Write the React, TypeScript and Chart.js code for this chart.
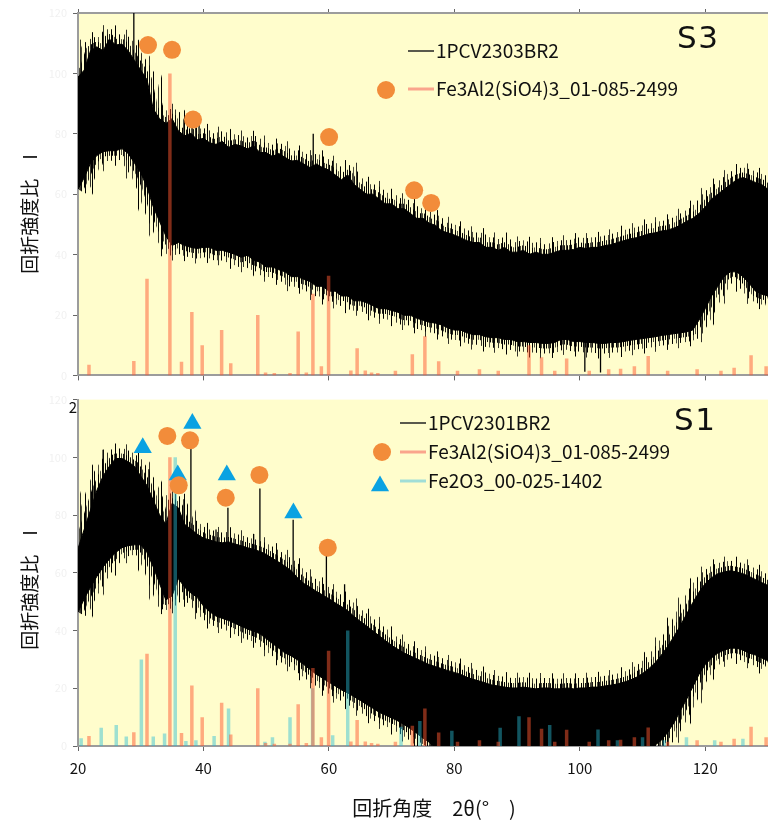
import { useEffect, useRef } from 'react';
import { Chart, registerables } from 'chart.js';

Chart.register(...registerables);

// 2θ sampling positions of the two scans (degrees)
const scanAngles = [
  20, 21, 22, 23, 24, 25, 26, 27, 28, 29, 30, 31, 32, 33, 34, 35, 36, 37, 38, 39,
  40, 41, 42, 43, 44, 45, 46, 47, 48, 49, 50, 51, 52, 53, 54, 55, 56, 57, 58, 59,
  60, 61, 62, 63, 64, 65, 66, 67, 68, 69, 70, 71, 72, 73, 74, 75, 76, 77, 78, 79,
  80, 81, 82, 83, 84, 85, 86, 87, 88, 89, 90, 91, 92, 93, 94, 95, 96, 97, 98, 99,
  100, 101, 102, 103, 104, 105, 106, 107, 108, 109, 110, 111, 112, 113, 114, 115, 116, 117, 118, 119,
  120, 121, 122, 123, 124, 125, 126, 127, 128, 129, 130,
];

// S3 (1PCV2303BR2): upper and lower edge of the noisy scan
const s3Upper = [
  98.8, 101.1, 107.5, 108.8, 107.5, 111.4, 109.4, 109.7, 107.5, 104.3,
  101.1, 97.9, 88.2, 85.0, 83.4, 85.0, 81.0, 79.3, 80.2, 78.0,
  78.5, 77.0, 76.5, 77.5, 75.5, 76.5, 76.0, 75.0, 76.0, 73.8,
  73.8, 72.5, 73.5, 72.2, 71.0, 71.2, 70.0, 68.8, 70.0, 68.8,
  68.0, 66.4, 64.8, 66.4, 63.2, 61.6, 60.0, 60.0, 58.4, 56.8,
  56.8, 55.2, 55.2, 53.6, 52.0, 52.0, 50.4, 49.7, 47.8, 47.2,
  46.5, 45.6, 44.6, 44.0, 44.0, 42.4, 42.4, 41.4, 42.4, 40.8,
  40.8, 41.4, 40.1, 40.8, 40.1, 40.1, 40.8, 41.4, 41.4, 41.7,
  42.4, 42.0, 42.4, 42.4, 43.0, 43.3, 44.0, 44.6, 45.2, 45.6,
  46.2, 46.9, 47.2, 47.8, 48.1, 48.8, 49.7, 51.0, 52.0, 53.6,
  55.8, 58.4, 60.0, 61.6, 63.2, 64.8, 65.5, 64.8, 63.9, 63.2,
  61.6,
];
const s3Lower = [
  61.6, 65.5, 70.3, 72.8, 74.1, 74.4, 74.4, 75.1, 73.5, 70.3,
  67.1, 62.3, 55.8, 51.0, 46.2, 43.0, 44.0, 43.0, 42.4, 42.0,
  42.4, 42.4, 41.4, 41.4, 40.8, 40.1, 39.1, 39.8, 38.2, 37.5,
  35.9, 35.9, 35.0, 34.3, 32.7, 32.7, 31.8, 31.1, 29.5, 29.5,
  27.9, 27.9, 26.3, 26.3, 24.7, 24.7, 24.1, 23.1, 22.1, 22.1,
  21.5, 20.9, 19.9, 19.9, 18.9, 18.3, 17.6, 17.3, 16.7, 15.7,
  15.0, 15.0, 14.1, 13.5, 13.5, 12.8, 12.5, 12.5, 11.9, 11.9,
  11.2, 11.2, 10.9, 10.9, 10.6, 10.6, 10.9, 11.9, 11.9, 11.2,
  11.2, 10.9, 10.9, 10.6, 10.6, 10.9, 10.9, 11.2, 11.6, 11.9,
  12.2, 12.5, 12.8, 13.2, 13.5, 13.8, 14.1, 14.4, 15.0, 18.3,
  22.1, 26.3, 29.5, 32.7, 34.3, 34.3, 32.7, 30.5, 27.9, 26.9,
  26.3,
];

// S1 (1PCV2301BR2): upper and lower edge of the noisy scan
const s1Upper = [
  68.4, 75.1, 81.8, 88.5, 93.5, 96.9, 99.6, 99.6, 98.5, 96.9,
  93.5, 90.2, 85.1, 80.1, 76.8, 84.1, 82.5, 76.8, 75.1, 73.4,
  72.0, 71.4, 70.7, 70.4, 70.7, 70.0, 69.4, 68.7, 68.1, 67.4,
  66.4, 65.0, 63.7, 62.3, 60.7, 58.3, 56.3, 55.0, 53.6, 52.3,
  51.0, 49.6, 48.3, 46.9, 44.9, 43.2, 41.6, 39.9, 38.2, 36.5,
  34.9, 33.5, 32.2, 31.2, 30.2, 29.2, 28.2, 27.5, 26.8, 26.1,
  25.5, 24.8, 23.8, 23.1, 22.5, 21.8, 21.1, 20.8, 20.4, 20.1,
  20.1, 20.4, 20.1, 19.8, 20.1, 20.1, 19.8, 19.8, 20.1, 19.8,
  20.1, 20.1, 20.4, 20.4, 20.8, 21.1, 21.5, 22.1, 22.8, 23.8,
  25.1, 26.8, 28.8, 31.5, 34.5, 37.9, 41.6, 45.6, 49.6, 53.3,
  56.3, 58.3, 59.7, 60.3, 60.7, 60.3, 59.7, 58.7, 57.7, 56.6,
  55.6,
];
const s1Lower = [
  46.3, 51.0, 55.0, 58.7, 62.0, 64.7, 67.0, 68.7, 69.4, 69.7,
  69.7, 67.0, 62.0, 56.3, 50.6, 52.0, 58.0, 55.0, 53.0, 51.5,
  48.5, 46.5, 45.0, 44.2, 43.5, 42.5, 41.5, 40.5, 39.8, 38.9,
  37.2, 35.5, 33.9, 32.2, 31.2, 29.8, 28.2, 26.5, 24.8, 23.5,
  22.1, 20.8, 19.4, 18.4, 17.1, 15.8, 14.4, 13.1, 11.7, 10.7,
  9.7, 8.7, 7.4, 6.0, 4.4, 2.7, 1.3, -1, -1, -1,
  -1, -1, -1, -1, -1, -1, -1, -1, -1, -1,
  -1, -1, -1, -1, -1, -1, -1, -1, -1, -1,
  -1, -1, -1, -1, -1, -1, -1, -1, -1, -1,
  -1, -1, 0.3, 2.0, 4.7, 8.0, 12.1, 16.1, 20.4, 24.8,
  28.2, 30.5, 32.2, 33.2, 33.9, 33.9, 33.2, 32.2, 31.5, 30.5,
  29.5,
];

// narrow reflections rising out of the noise: [2θ, tip]
const s3Spikes = [[28.9, 125], [39.3, 83], [57.5, 80], [100.8, 1.2], [103.3, 1.0]];
const s1Spikes = [
  [24.0, 102.6], [31.3, 95.9], [38.0, 103.4], [42.0, 75.0], [43.9, 82.5], [48.0, 73.4],
  [49.0, 89.2], [54.3, 78.4], [59.6, 68.0], [62.5, 56.0],
];

// Fe3Al2(SiO4)3 01-085-2499: 2θ and relative intensity (%)
const almandinePos = [
  21.75, 28.9, 31.0, 34.65, 36.5, 38.15, 39.8, 42.9, 44.35, 48.66,
  49.9, 51.3, 53.8, 55.1, 56.4, 57.45, 58.8, 59.95, 63.5, 64.5,
  65.8, 66.8, 67.8, 70.6, 73.3, 75.3, 77.5, 80.5, 84.0, 87.0,
  91.9, 93.9, 96.0, 97.9, 101.5, 104.6, 106.5, 108.7, 110.9, 114.0,
  118.7, 122.5, 124.6, 127.3, 129.7,
];
const almandineInt = [
  3.5, 4.8, 32, 100, 4.5, 21, 10, 15, 4, 20,
  1, 0.8, 0.8, 14.5, 1, 27, 3, 33, 1.6, 9,
  1.6, 1, 0.8, 1.5, 7, 13, 4.7, 1.5, 2, 1.5,
  10, 6, 1.5, 5.6, 1.5, 2, 2.2, 3, 6.4, 1.5,
  2, 1.5, 2.5, 6.7, 3,
];

// Fe2O3 00-025-1402: 2θ and relative intensity (%)
const hematitePos = [
  20.5, 23.7, 26.1, 27.7, 30.1, 32.0, 33.8, 35.5, 37.2, 38.8,
  41.7, 44.0, 49.8, 51.0, 53.8, 57.4, 60.6, 63.0, 71.5, 74.5,
  79.6, 87.3, 90.3, 95.2, 102.9, 106.0, 110.0, 113.5, 117.0, 121.5,
  126.0,
];
const hematiteInt = [
  2.7, 6.3, 7.3, 3.3, 30, 3.3, 4.3, 100, 1.7, 2,
  3.5, 13, 1.5, 3, 10, 20, 3.7, 40, 6.7, 8.7,
  5.3, 6.3, 10.3, 7.3, 5.7, 2, 3, 2, 3, 2,
  2.5,
];

// phase markers placed above the assigned peaks: [2θ, height]
const s3GarnetMarks = [[31.16, 109.4], [34.99, 107.8], [38.34, 84.7], [60.03, 78.9], [73.59, 61.3], [76.3, 57.1]];
const s1GarnetMarks = [[34.24, 107.4], [37.86, 105.9], [36.06, 90.3], [43.56, 86.0], [48.92, 93.9], [59.82, 68.7]];
const s1HematiteMarks = [[30.32, 103.3], [38.23, 111.7], [35.9, 93.9], [43.72, 93.9], [54.34, 80.7]];

const xTicks = [20, 40, 60, 80, 100, 120];
const yTicks = [0, 20, 40, 60, 80, 100, 120];

const FONT_JP = '"Noto Sans CJK JP", "Noto Sans", sans-serif';
const PLOT_BG = '#fffdcc';
const AXIS_GRAY = '#9c9c9c';
const GARNET_STICK = 'rgba(255, 88, 48, 0.5)';
const HEMATITE_STICK = 'rgba(40, 188, 212, 0.45)';
const GARNET_MARK = '#f28c3a';
const HEMATITE_MARK = '#0aa2e2';

type Pt = { x: number; y: number | null };

// vertical-stripe texture used to fray the edges of the noise band
function combPattern(alphas: number[]): CanvasPattern | string {
  const c = document.createElement('canvas');
  c.width = alphas.length;
  c.height = 1;
  const g = c.getContext('2d');
  if (!g) return '#000';
  alphas.forEach((a, i) => {
    if (a > 0) {
      g.fillStyle = `rgba(0,0,0,${a})`;
      g.fillRect(i, 0, 1, 1);
    }
  });
  return g.createPattern(c, 'repeat') || '#000';
}

function bandDatasets(upper: number[], lower: number[]) {
  const upperPts = scanAngles.map((x, i) => ({ x, y: upper[i] }));
  const lowerPts = scanAngles.map((x, i) => ({ x, y: lower[i] }));
  // three combs of different pitch give spikes of uneven length
  const outer = combPattern([1, 0, 0, 0, 0, 0, 0, 0, 0, 0, 0, 0.8, 0, 0, 0, 0, 0, 0, 0, 0, 0, 0, 0]);
  const middle = combPattern([1, 0, 0, 0, 0, 0.8, 0, 0, 0, 1, 0, 0, 0, 0.7, 0, 0, 0]);
  const inner = combPattern([1, 0, 0.7, 0, 0.9, 0, 0]);
  const fringe = (data: Pt[], pattern: CanvasPattern | string, width: number) => ({
    type: 'line',
    data,
    borderColor: pattern,
    borderWidth: width,
    borderJoinStyle: 'round',
    pointRadius: 0,
    fill: false,
    clip: 0,
    order: 3,
  });
  return [
    {
      type: 'line',
      data: upperPts,
      borderColor: '#000',
      borderWidth: 1,
      pointRadius: 0,
      fill: false,
      clip: 0,
      order: 3,
    },
    {
      type: 'line',
      data: lowerPts,
      borderColor: '#000',
      borderWidth: 1,
      pointRadius: 0,
      fill: '-1',
      backgroundColor: '#000',
      clip: 0,
      order: 3,
    },
    fringe(upperPts, outer, 30),
    fringe(upperPts, middle, 20),
    fringe(upperPts, inner, 10),
    fringe(lowerPts, outer, 30),
    fringe(lowerPts, middle, 20),
    fringe(lowerPts, inner, 10),
  ];
}

function spikeDataset(spikes: number[][], upper: number[], lower: number[]) {
  const pts: Pt[] = [];
  spikes.forEach(([x, tip]) => {
    let k = 0;
    scanAngles.forEach((a, i) => {
      if (Math.abs(a - x) < Math.abs(scanAngles[k] - x)) k = i;
    });
    const base = (upper[k] + lower[k]) / 2;
    pts.push({ x, y: base }, { x, y: tip }, { x, y: null });
  });
  return {
    type: 'line',
    data: pts,
    borderColor: '#000',
    borderWidth: 1.3,
    pointRadius: 0,
    spanGaps: false,
    clip: 0,
    order: 3,
  };
}

function stickDataset(pos: number[], inten: number[], color: string) {
  const pts: Pt[] = [];
  pos.forEach((x, i) => {
    pts.push({ x, y: 0 }, { x, y: inten[i] }, { x, y: null });
  });
  return {
    type: 'line',
    data: pts,
    borderColor: color,
    borderWidth: 3.5,
    borderCapStyle: 'butt',
    pointRadius: 0,
    spanGaps: false,
    clip: 0,
    order: 2,
  };
}

function markerDataset(marks: number[][], style: string, color: string, radius: number) {
  return {
    type: 'line',
    data: marks.map(([x, y]) => ({ x, y })),
    showLine: false,
    pointStyle: style,
    pointRadius: radius,
    pointBackgroundColor: color,
    pointBorderColor: color,
    pointBorderWidth: 0,
    order: 1,
  };
}

function drawYTitle(ctx: CanvasRenderingContext2D, x: number, y: number) {
  ctx.save();
  ctx.translate(x, y);
  ctx.rotate(-Math.PI / 2);
  ctx.font = `19px ${FONT_JP}`;
  ctx.fillStyle = '#111';
  ctx.textAlign = 'center';
  ctx.textBaseline = 'middle';
  ctx.fillText('回折強度比\u3000I', 0, 0);
  ctx.restore();
}

function drawLegendRow(
  ctx: CanvasRenderingContext2D,
  x0: number,
  y: number,
  color: string,
  width: number,
  label: string,
) {
  ctx.save();
  ctx.strokeStyle = color;
  ctx.lineWidth = width;
  ctx.beginPath();
  ctx.moveTo(x0, y);
  ctx.lineTo(x0 + 26, y);
  ctx.stroke();
  ctx.font = `19px ${FONT_JP}`;
  ctx.fillStyle = '#111';
  ctx.textAlign = 'left';
  ctx.textBaseline = 'middle';
  ctx.fillText(label, x0 + 28, y);
  ctx.restore();
}

function drawCircle(ctx: CanvasRenderingContext2D, x: number, y: number, r: number) {
  ctx.save();
  ctx.fillStyle = GARNET_MARK;
  ctx.beginPath();
  ctx.arc(x, y, r, 0, Math.PI * 2);
  ctx.fill();
  ctx.restore();
}

function drawTriangle(ctx: CanvasRenderingContext2D, x: number, y: number, r: number) {
  ctx.save();
  ctx.fillStyle = HEMATITE_MARK;
  ctx.beginPath();
  ctx.moveTo(x, y - r);
  ctx.lineTo(x + r * 0.866, y + r / 2);
  ctx.lineTo(x - r * 0.866, y + r / 2);
  ctx.closePath();
  ctx.fill();
  ctx.restore();
}

function drawSampleName(ctx: CanvasRenderingContext2D, name: string, x: number, y: number) {
  ctx.save();
  ctx.font = '31px "DejaVu Sans", sans-serif';
  (ctx as any).letterSpacing = '1.5px';
  ctx.fillStyle = '#111';
  ctx.textAlign = 'left';
  ctx.textBaseline = 'alphabetic';
  ctx.fillText(name, x, y);
  ctx.restore();
}

function decorPlugin(panel: 'S3' | 'S1') {
  return {
    id: 'decor' + panel,
    beforeDraw(chart: any) {
      const { ctx, chartArea: a } = chart;
      ctx.save();
      ctx.fillStyle = PLOT_BG;
      ctx.fillRect(a.left, a.top, a.right - a.left, a.bottom - a.top);
      ctx.restore();
    },
    afterDraw(chart: any) {
      const ctx: CanvasRenderingContext2D = chart.ctx;
      if (panel === 'S3') {
        drawYTitle(ctx, 30, 214);
        drawLegendRow(ctx, 408, 51, '#222', 1.5, '1PCV2303BR2');
        drawCircle(ctx, 386, 90, 9);
        drawLegendRow(ctx, 408, 89, 'rgba(250, 165, 140, 1)', 3, 'Fe3Al2(SiO4)3_01-085-2499');
        drawSampleName(ctx, 'S3', 677, 48);
      } else {
        drawYTitle(ctx, 30, 203);
        ctx.save();
        ctx.font = `15px ${FONT_JP}`;
        ctx.fillStyle = '#111';
        ctx.textAlign = 'right';
        ctx.textBaseline = 'middle';
        ctx.fillText('2', 77, 20);
        ctx.restore();
        drawLegendRow(ctx, 400, 36, '#222', 1.5, '1PCV2301BR2');
        drawCircle(ctx, 382, 65, 9);
        drawLegendRow(ctx, 400, 65, 'rgba(250, 165, 140, 1)', 3, 'Fe3Al2(SiO4)3_01-085-2499');
        drawTriangle(ctx, 380, 99, 10.5);
        drawLegendRow(ctx, 400, 94, 'rgba(160, 222, 215, 1)', 3, 'Fe2O3_00-025-1402');
        drawSampleName(ctx, 'S1', 674, 43);
        ctx.save();
        ctx.font = `20px ${FONT_JP}`;
        ctx.fillStyle = '#111';
        ctx.textAlign = 'center';
        ctx.textBaseline = 'middle';
        ctx.fillText('回折角度\u30002θ(°\u3000)', 434, 421);
        ctx.restore();
      }
    },
  };
}

function buildConfig(panel: 'S3' | 'S1'): any {
  const isBottom = panel === 'S1';
  const datasets: any[] = isBottom
    ? [
        ...bandDatasets(s1Upper, s1Lower),
        spikeDataset(s1Spikes, s1Upper, s1Lower),
        stickDataset(almandinePos, almandineInt, GARNET_STICK),
        stickDataset(hematitePos, hematiteInt, HEMATITE_STICK),
        markerDataset(s1GarnetMarks, 'circle', GARNET_MARK, 9),
        markerDataset(s1HematiteMarks, 'triangle', HEMATITE_MARK, 10.5),
      ]
    : [
        ...bandDatasets(s3Upper, s3Lower),
        spikeDataset(s3Spikes, s3Upper, s3Lower),
        stickDataset(almandinePos, almandineInt, GARNET_STICK),
        markerDataset(s3GarnetMarks, 'circle', GARNET_MARK, 9),
      ];

  const setXTicks = (s: any) => {
    s.ticks = xTicks.map((v) => ({ value: v }));
  };
  const setYTicks = (s: any) => {
    s.ticks = yTicks.map((v) => ({ value: v }));
  };

  const scales: any = {
    x: {
      type: 'linear',
      position: 'bottom',
      min: 20,
      max: 130,
      afterBuildTicks: setXTicks,
      ticks: {
        display: isBottom,
        color: '#111',
        font: { family: FONT_JP, size: 15 },
        padding: 8,
        maxRotation: 0,
        autoSkip: false,
      },
      grid: { drawOnChartArea: false, drawTicks: true, tickLength: 5, color: '#666' },
      border: { display: true, color: AXIS_GRAY, width: 2 },
      afterFit: (s: any) => {
        s.height = isBottom ? 77 : 1;
      },
    },
    y: {
      type: 'linear',
      position: 'left',
      min: 0,
      max: 120,
      afterBuildTicks: setYTicks,
      ticks: { color: '#f1f1f1', font: { family: FONT_JP, size: 11 }, padding: 6 },
      grid: { drawOnChartArea: false, drawTicks: true, tickLength: 5, color: '#666' },
      border: { display: true, color: AXIS_GRAY, width: 2 },
      afterFit: (s: any) => {
        s.width = 78;
      },
    },
  };
  if (!isBottom) {
    scales.xTop = {
      type: 'linear',
      position: 'top',
      min: 20,
      max: 130,
      afterBuildTicks: setXTicks,
      ticks: { display: false },
      grid: { drawOnChartArea: false, drawTicks: true, tickLength: 4, color: '#666' },
      border: { display: true, color: AXIS_GRAY, width: 2 },
      afterFit: (s: any) => {
        s.height = 13;
      },
    };
  }

  return {
    type: 'line',
    data: { datasets },
    options: {
      animation: false,
      responsive: false,
      devicePixelRatio: 1,
      layout: { autoPadding: false, padding: { top: isBottom ? 1 : 0, left: 0, right: 0, bottom: 0 } },
      plugins: { legend: { display: false }, tooltip: { enabled: false } },
      scales,
    },
    plugins: [decorPlugin(panel)],
  };
}

export default function App() {
  const topRef = useRef<HTMLCanvasElement>(null);
  const bottomRef = useRef<HTMLCanvasElement>(null);

  useEffect(() => {
    const top = new Chart(topRef.current as HTMLCanvasElement, buildConfig('S3'));
    const bottom = new Chart(bottomRef.current as HTMLCanvasElement, buildConfig('S1'));
    return () => {
      top.destroy();
      bottom.destroy();
    };
  }, []);

  return (
    <div
      style={{
        position: 'absolute',
        left: 0,
        top: 0,
        width: 768,
        height: 823,
        background: '#fff',
        overflow: 'hidden',
      }}
    >
      <canvas
        ref={topRef}
        width={768}
        height={388}
        style={{ position: 'absolute', left: 0, top: 0, width: 768, height: 388 }}
      />
      <canvas
        ref={bottomRef}
        width={768}
        height={436}
        style={{ position: 'absolute', left: 0, top: 387, width: 768, height: 436 }}
      />
    </div>
  );
}
